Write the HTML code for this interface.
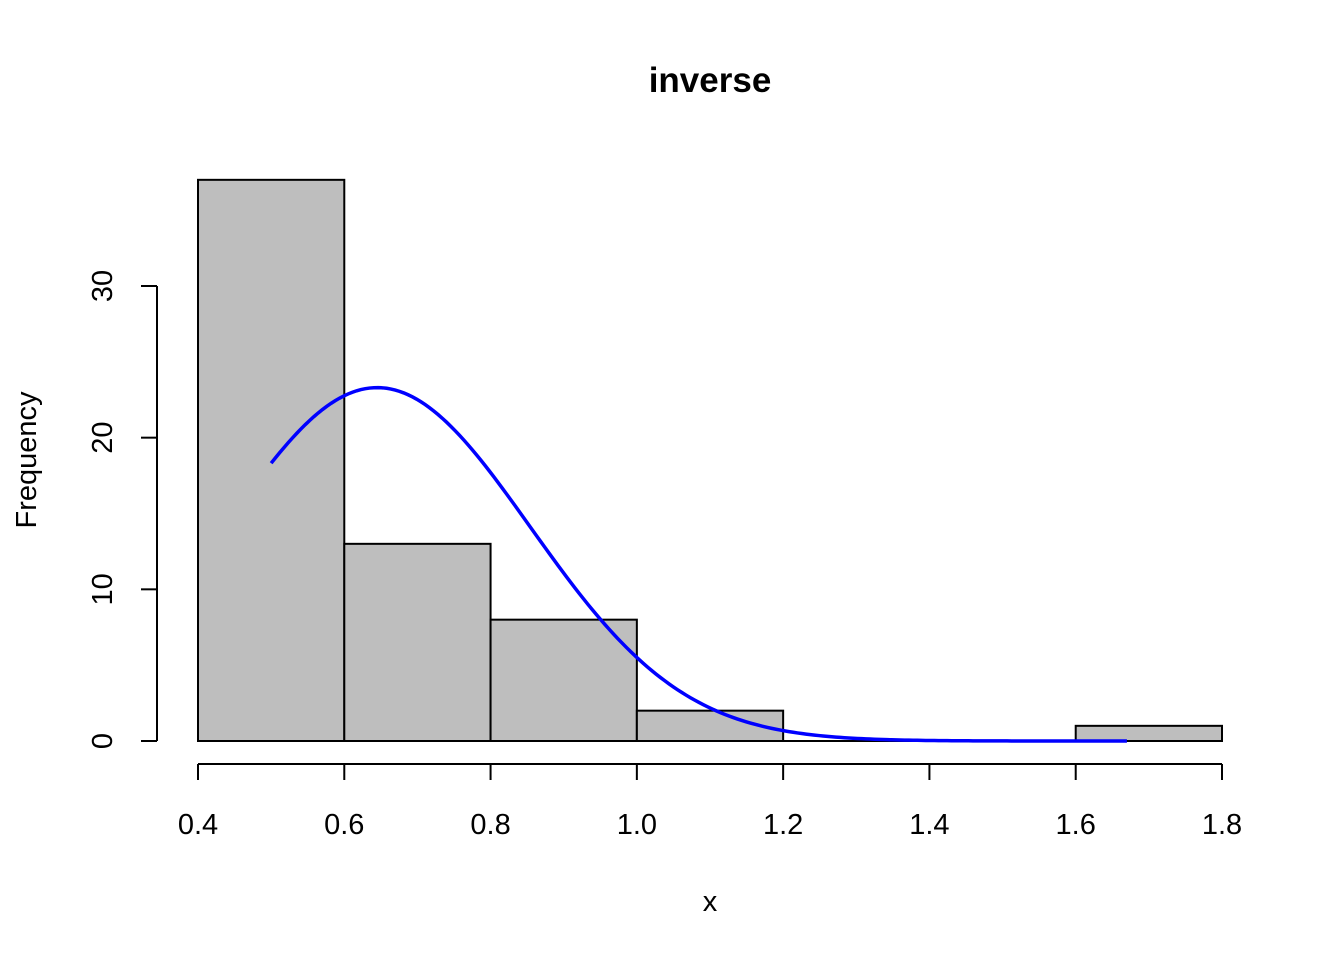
<!DOCTYPE html>
<html><head><meta charset="utf-8"><style>
html,body{margin:0;padding:0;background:#fff;}
svg{display:block;font-family:"Liberation Sans",Arial,sans-serif;}
</style></head><body>
<svg id="chart" width="1344" height="960" viewBox="0 0 1344 960">
<text x="710" y="92" text-anchor="middle" font-size="35" font-weight="bold">inverse</text>
<text x="710" y="911" text-anchor="middle" font-size="29">x</text>
<text transform="translate(36,460) rotate(-90)" text-anchor="middle" font-size="29">Frequency</text>
<g id="bars"></g>
<g id="curve"></g>
<g id="xaxis"></g>
<g id="yaxis"></g>
</svg>
<script>
const binEdges = [0.4,0.6,0.8,1.0,1.2,1.4,1.6,1.8];
const counts = [37,13,8,2,0,0,1];
const xTicks = [0.4,0.6,0.8,1.0,1.2,1.4,1.6,1.8];
const xTickLabels = ["0.4","0.6","0.8","1.0","1.2","1.4","1.6","1.8"];
const yTicks = [0,10,20,30];
const curveMean = 0.645;
const curveSd = 0.209;
const curvePeak = 23.3;
const curveRange = [0.5,1.67];

const NS="http://www.w3.org/2000/svg";
const sx = v => 198 + (v-0.4)*(1222-198)/1.4;
const sy = v => 741 - v*(741-286)/30;
function mk(tag, attrs, parent){const e=document.createElementNS(NS,tag);for(const k in attrs)e.setAttribute(k,attrs[k]);parent.appendChild(e);return e;}

const bars=document.getElementById('bars');
counts.forEach((c,i)=>{
  if(c<=0){
    const l=mk('line',{x1:sx(binEdges[i]),x2:sx(binEdges[i+1]),y1:sy(0),y2:sy(0),stroke:'#000','stroke-width':2},bars);
    
    
    return;
  }
  const r=mk('rect',{x:sx(binEdges[i]),y:sy(c),width:sx(binEdges[i+1])-sx(binEdges[i]),height:sy(0)-sy(c),fill:'#bebebe',stroke:'#000','stroke-width':2},bars);
  
  
});

const cg=document.getElementById('curve');
let d='';
const n=200;
for(let k=0;k<=n;k++){
  const x=curveRange[0]+(curveRange[1]-curveRange[0])*k/n;
  const y=curvePeak*Math.exp(-((x-curveMean)**2)/(2*curveSd*curveSd));
  d+=(k?'L':'M')+sx(x).toFixed(2)+' '+sy(y).toFixed(2);
}
const p=mk('path',{d:d,fill:'none',stroke:'#0000ff','stroke-width':3.5},cg);



const xa=document.getElementById('xaxis');
const xl=mk('line',{x1:sx(xTicks[0]),x2:sx(xTicks[xTicks.length-1]),y1:764,y2:764,stroke:'#000','stroke-width':2},xa);


xTicks.forEach((t,i)=>{
  const tk=mk('line',{x1:sx(t),x2:sx(t),y1:764,y2:780,stroke:'#000','stroke-width':2},xa);
  
  
  const tx=mk('text',{x:sx(t),y:834,'text-anchor':'middle','font-size':29},xa);
  tx.textContent=xTickLabels[i];
  
  
});

const ya=document.getElementById('yaxis');
const yl=mk('line',{x1:157,x2:157,y1:sy(yTicks[0]),y2:sy(yTicks[yTicks.length-1]),stroke:'#000','stroke-width':2},ya);


yTicks.forEach(t=>{
  const tk=mk('line',{x1:141,x2:157,y1:sy(t),y2:sy(t),stroke:'#000','stroke-width':2},ya);
  
  
  const tx=mk('text',{transform:`translate(112,${sy(t)}) rotate(-90)`,'text-anchor':'middle','font-size':29},ya);
  tx.textContent=String(t);
  
  
});
</script>
</body></html>
